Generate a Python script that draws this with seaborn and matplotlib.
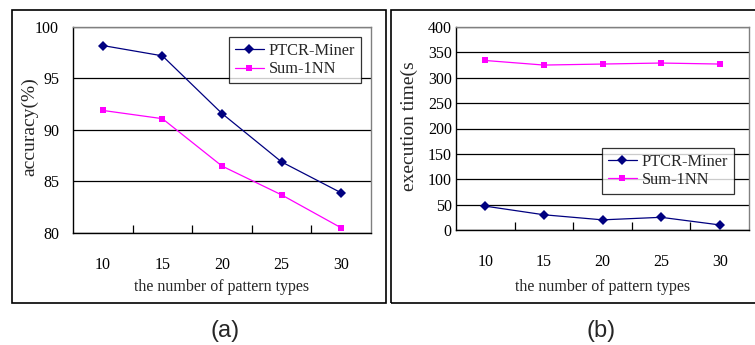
import matplotlib
matplotlib.use("Agg")
import matplotlib.pyplot as plt
from matplotlib.patches import Rectangle
from matplotlib.ticker import FixedLocator, NullFormatter
import seaborn as sns
import pandas as pd

# ---- data ----
pattern_types = [10, 15, 20, 25, 30]
methods = ["PTCR-Miner", "Sum-1NN"]
acc_ptcr = [98.2, 97.2, 91.6, 86.9, 83.9]
acc_sum = [91.9, 91.1, 86.5, 83.7, 80.5]
time_ptcr = [47, 30, 20, 25, 10]
time_sum = [334, 325, 327, 329, 327]
acc_ticks = [80, 85, 90, 95, 100]
time_ticks = [0, 50, 100, 150, 200, 250, 300, 350, 400]

sns.set_theme(style="white")
plt.rcParams["font.family"] = ["Liberation Serif", "DejaVu Serif"]

colors = {"PTCR-Miner": "#000080", "Sum-1NN": "#FF00FF"}
markers = {"PTCR-Miner": "D", "Sum-1NN": "s"}

W, H = 755, 345
fig = plt.figure(figsize=(W / 100, H / 100), dpi=100)

FS = 11.5


def fx(px):
    return px / W


def fy(py):
    return 1 - py / H


# outer panel frames
for x0, x1 in [(12, 386), (391, 770)]:
    fig.patches.append(Rectangle((fx(x0), fy(303)), fx(x1) - fx(x0), fy(10) - fy(303),
                                 transform=fig.transFigure, fill=False,
                                 edgecolor="black", linewidth=1.2, zorder=0))


def panel(box, ptcr, sumv, yticks, ylabel, ylabel_xy, legend_anchor, ypad, xlabel_center):
    l, t, r, b = box
    ax = fig.add_axes([fx(l), fy(b), fx(r) - fx(l), fy(t) - fy(b)])
    df = pd.DataFrame({
        "n": pattern_types * 2,
        "value": list(ptcr) + list(sumv),
        "method": [methods[0]] * len(pattern_types) + [methods[1]] * len(pattern_types),
    })
    sns.lineplot(data=df, x="n", y="value", hue="method", style="method",
                 markers=markers, dashes=False, palette=colors, ax=ax,
                 linewidth=0.9, markersize=5.0, markeredgewidth=0, zorder=3)
    ax.set_xlim(7.5, 32.5)
    ax.set_ylim(yticks[0], yticks[-1])
    ax.set_xticks(pattern_types)
    ax.set_xticklabels([str(v) for v in pattern_types])
    ax.xaxis.set_minor_locator(FixedLocator([12.5, 17.5, 22.5, 27.5]))
    ax.xaxis.set_minor_formatter(NullFormatter())
    ax.tick_params(axis="x", which="major", length=0, pad=17, labelsize=FS, colors="black")
    ax.tick_params(axis="x", which="minor", length=6, width=0.9, direction="in",
                   bottom=True, color="black")
    ax.set_yticks(yticks)
    ax.set_yticklabels([str(v) for v in yticks])
    ax.tick_params(axis="y", length=0, pad=ypad, labelsize=FS, colors="black")
    ax.yaxis.grid(True, color="black", linewidth=0.9)
    ax.set_axisbelow(True)
    for side in ["top", "right"]:
        ax.spines[side].set_color("#808080")
        ax.spines[side].set_linewidth(1.0)
    for side in ["left", "bottom"]:
        ax.spines[side].set_color("black")
        ax.spines[side].set_linewidth(1.0)
    ax.set_xlabel("")
    ax.set_ylabel("")
    handles, labels = ax.get_legend_handles_labels()
    leg = ax.legend(handles, labels, loc="upper right", bbox_to_anchor=legend_anchor,
                    borderaxespad=0, frameon=True, fancybox=False, fontsize=11.75,
                    handlelength=1.8, handletextpad=0.3, borderpad=0.35, labelspacing=0.15)
    leg.get_frame().set_edgecolor("black")
    leg.get_frame().set_linewidth(0.9)
    fig.text(fx(ylabel_xy[0]), fy(ylabel_xy[1]), ylabel, rotation=90,
             ha="center", va="center", fontsize=14)
    fig.text(fx(xlabel_center), fy(287), "the number of pattern types",
             ha="center", va="center", fontsize=FS)
    return ax


panel((73, 27, 371, 233), acc_ptcr, acc_sum, acc_ticks, "accuracy(%)", (30, 127),
      (0.966, 0.951), 10, 222)
panel((456, 27, 749, 230), time_ptcr, time_sum, time_ticks, "execution time(s", (409, 126),
      (0.949, 0.404), 3, 603)

fig.text(fx(225), fy(331), "(a)", ha="center", va="center", fontsize=17,
         family=["Liberation Sans", "DejaVu Sans"])
fig.text(fx(601), fy(331), "(b)", ha="center", va="center", fontsize=17,
         family=["Liberation Sans", "DejaVu Sans"])

fig.savefig("out.png", dpi=100)
